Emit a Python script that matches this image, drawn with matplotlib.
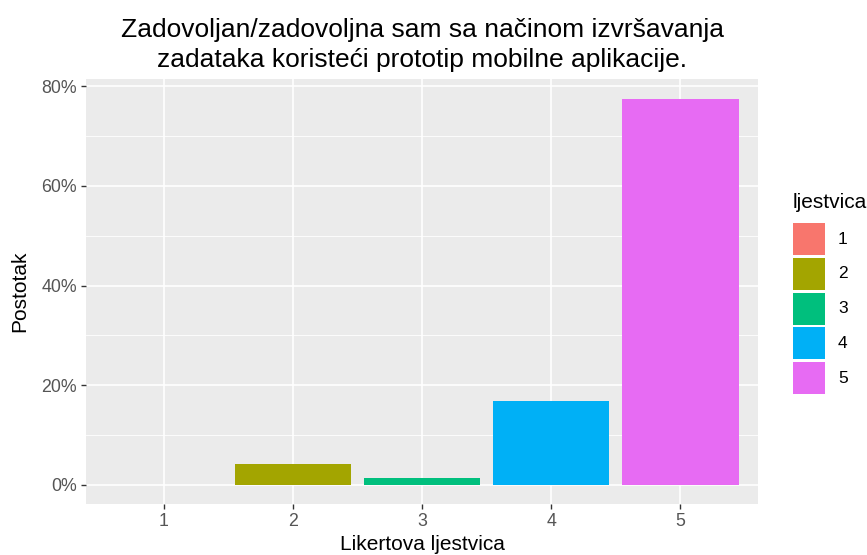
import matplotlib

matplotlib.use("Agg")
import matplotlib.pyplot as plt  # noqa: E402
from matplotlib.patches import Rectangle  # noqa: E402
from matplotlib.ticker import FuncFormatter, MultipleLocator  # noqa: E402

# dados
categorias = ["1", "2", "3", "4", "5"]
posicoes = [1, 2, 3, 4, 5]
postotak = [0.0, 4.2, 1.4, 16.9, 77.5]
boje = ["#F8766D", "#A3A500", "#00BF7D", "#00B0F6", "#E76BF3"]
y_ticks = [0, 20, 40, 60, 80]

plt.rcParams["font.family"] = ["Liberation Sans", "DejaVu Sans"]

W, H = 867, 555
fig = plt.figure(figsize=(W / 100, H / 100), dpi=100)
ax = fig.add_axes([0.0992, 0.0919, 0.7751, 0.7649])

ax.set_facecolor("#EBEBEB")
for s in ax.spines.values():
    s.set_visible(False)

ax.bar(posicoes, postotak, width=0.9, color=boje, zorder=3)

ymax = max(postotak)
pad = ymax * 0.05
ax.set_ylim(-pad, ymax + pad)
ax.set_xlim(0.4, 5.6)

ax.set_xticks(posicoes)
ax.set_xticklabels(categorias)
ax.set_yticks(y_ticks)
ax.yaxis.set_minor_locator(MultipleLocator(10))
ax.yaxis.set_major_formatter(FuncFormatter(lambda v, _: f"{v:.0f}%"))

ax.grid(True, which="major", color="white", linewidth=1.2, zorder=0)
ax.grid(True, which="minor", axis="y", color="white", linewidth=0.6, zorder=0)
ax.set_axisbelow(True)
ax.tick_params(axis="both", which="major", colors="#333333", length=3.5, width=1.0,
               labelcolor="#555555", labelsize=12.8, pad=3)
ax.tick_params(axis="y", which="minor", length=0)

ax.set_xlabel("Likertova ljestvica", fontsize=15, color="black", labelpad=3.5)
ax.set_ylabel("Postotak", fontsize=15, color="black", labelpad=9)
ax.set_title("Zadovoljan/zadovoljna sam sa načinom izvršavanja\n"
             "zadataka koristeći prototip mobilne aplikacije.",
             fontsize=19, color="black", linespacing=1.3, pad=9)

# legenda desenhada a mao (posicoes em pixels da figura)
fig.text(793 / W, 1 - 203 / H, "ljestvica", fontsize=15, va="center", ha="left")
for i, (cat, cor) in enumerate(zip(categorias, boje)):
    top = 223 + i * 34.8
    fig.patches.append(Rectangle((793 / W, 1 - (top + 32) / H), 32 / W, 32 / H,
                                 transform=fig.transFigure, facecolor=cor,
                                 edgecolor="none"))
    fig.text(838 / W, 1 - (top + 16) / H, cat, fontsize=12.5, va="center", ha="left")

fig.savefig("out.png", dpi=100)
plt.close(fig)
